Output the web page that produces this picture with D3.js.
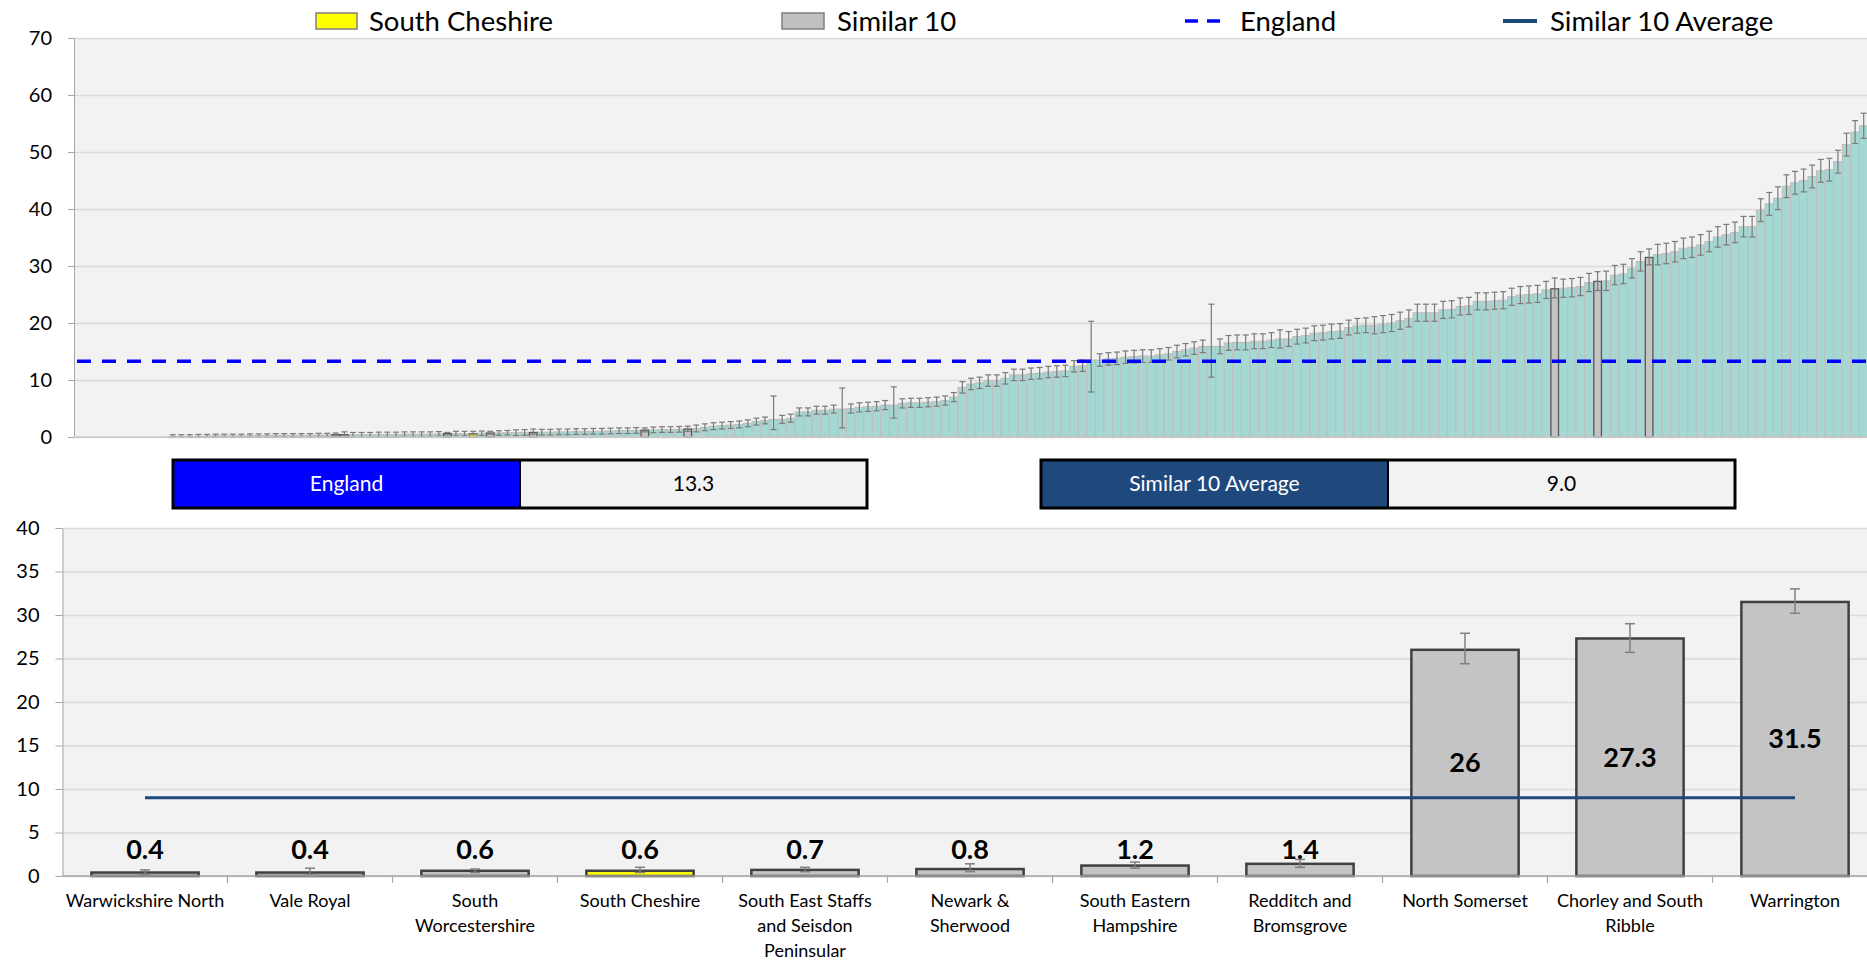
<!DOCTYPE html>
<html>
<head>
<meta charset="utf-8">
<script src="https://cdn.jsdelivr.net/npm/d3@7"></script>
<style>
  body { margin: 0; background: #fff; font-family: Lato, "Open Sans", sans-serif; }
  svg { display: block; }
</style>
</head>
<body>
<svg id="chart" width="1867" height="960"></svg>
<script>
// === DATA ===
const englandValue = 13.3;
const similarAverage = 9.0;
const highlightName = "South Cheshire";

// every area ranked low -> high (first 11 have no value shown)
const rankedValues = [
  null, null, null, null, null, null, null, null, null, null, null,
  0.1, 0.1, 0.1, 0.15, 0.15, 0.2, 0.2, 0.2, 0.2, 0.25,
  0.25, 0.25, 0.3, 0.3, 0.3, 0.3, 0.3, 0.35, 0.35, 0.4,
  0.4, 0.4, 0.4, 0.4, 0.45, 0.45, 0.45, 0.5, 0.5, 0.5,
  0.5, 0.55, 0.6, 0.6, 0.6, 0.6, 0.65, 0.7, 0.7, 0.75,
  0.75, 0.8, 0.8, 0.85, 0.85, 0.9, 0.9, 0.95, 0.95, 1.0,
  1.0, 1.05, 1.1, 1.1, 1.15, 1.2, 1.25, 1.3, 1.3, 1.35,
  1.4, 1.5, 1.7, 1.9, 2.0, 2.1, 2.2, 2.4, 2.7, 2.9,
  3.1, 3.1, 3.3, 4.4, 4.4, 4.7, 4.7, 4.9, 4.9, 5.0,
  5.2, 5.3, 5.4, 5.6, 5.6, 5.9, 6.0, 6.0, 6.1, 6.2,
  6.4, 7.0, 8.7, 9.3, 9.5, 9.9, 9.9, 10.3, 10.9, 10.9,
  11.1, 11.2, 11.4, 11.5, 11.6, 12.4, 12.5, 13.5, 13.5, 13.7,
  13.8, 14.0, 14.1, 14.2, 14.2, 14.4, 14.6, 15.0, 15.3, 15.6,
  15.9, 15.9, 15.9, 16.5, 16.6, 16.6, 16.8, 16.8, 17.0, 17.2,
  17.2, 17.6, 17.8, 18.2, 18.3, 18.5, 18.6, 19.2, 19.5, 19.6,
  19.6, 19.8, 20.0, 20.4, 20.8, 21.8, 21.8, 21.8, 22.3, 22.4,
  22.9, 23.0, 23.8, 23.8, 23.9, 24.0, 24.6, 24.9, 25.0, 25.1,
  25.8, 26.0, 26.1, 26.2, 26.4, 27.1, 27.3, 27.4, 28.4, 28.6,
  29.6, 30.8, 31.5, 32.0, 32.2, 32.5, 33.1, 33.3, 33.7, 34.3,
  35.1, 35.5, 35.9, 36.9, 36.9, 39.8, 40.9, 41.9, 44.0, 44.6,
  45.0, 45.7, 46.7, 46.9, 48.3, 51.3, 53.5, 54.6
];

// error half-width, or [lower, upper] where the interval is lopsided
const rankedErrors = [
  null, null, null, null, null, null, null, null, null, null, null,
  0.3, 0.3, 0.3, 0.3, 0.3, 0.3, 0.3, 0.3, 0.3, 0.3,
  0.3, 0.3, 0.3, 0.3, 0.3, 0.3, 0.3, 0.3, 0.3, 0.3,
  0.4, 0.4, 0.4, 0.4, 0.4, 0.4, 0.4, 0.4, 0.4, 0.4,
  0.4, 0.4, 0.4, 0.4, 0.4, 0.4, 0.4, 0.4, 0.4, 0.4,
  0.5, 0.5, 0.5, 0.5, 0.5, 0.5, 0.5, 0.5, 0.5, 0.5,
  0.5, 0.5, 0.5, 0.5, 0.5, 0.5, 0.5, 0.5, 0.5, 0.5,
  0.5, 0.6, 0.6, 0.6, 0.6, 0.6, 0.6, 0.6, 0.6, 0.6,
  [1.3, 7.2], 0.7, 0.7, 0.7, 0.7, 0.7, 0.7, 0.7, [1.6, 8.6], 0.8,
  0.8, 0.8, 0.8, 0.8, [3.3, 8.8], 0.8, 0.8, 0.8, 0.8, 0.8,
  0.8, 0.8, 1.0, 1.0, 1.0, 1.0, 1.0, 1.0, 1.0, 1.0,
  1.0, 1.0, 1.0, 1.0, 1.0, 1.0, 1.0, [7.9, 20.3], 1.1, 1.1,
  1.1, 1.1, 1.1, 1.1, 1.1, 1.1, 1.1, 1.1, 1.1, 1.1,
  1.1, [10.5, 23.3], 1.3, 1.3, 1.3, 1.3, 1.3, 1.3, 1.3, 1.6,
  1.3, 1.3, 1.3, 1.3, 1.3, 1.3, 1.3, 1.3, 1.3, 1.3,
  1.5, 1.5, 1.5, 1.5, 1.5, 1.5, 1.5, 1.5, 1.5, 1.5,
  1.5, 1.5, 1.5, 1.5, 1.5, 1.5, 1.5, 1.5, 1.5, 1.5,
  1.5, 1.7, 1.6, 1.6, 1.6, 1.6, 1.7, 1.7, 1.7, 1.7,
  1.7, 1.7, 1.4, 1.8, 1.8, 1.8, 1.8, 1.8, 1.8, 1.8,
  1.8, 1.8, 1.8, 1.8, 1.8, 2.0, 2.0, 2.0, 2.0, 2.0,
  2.0, 2.0, 2.0, 2.0, 2.0, 2.0, 2.0, 2.2
];

const similarNames = [
  "Warwickshire North", "Vale Royal", "South\nWorcestershire", "South Cheshire",
  "South East Staffs\nand Seisdon\nPeninsular", "Newark &\nSherwood", "South Eastern\nHampshire",
  "Redditch and\nBromsgrove", "North Somerset", "Chorley and South\nRibble", "Warrington"
];
const similarValues = [0.4, 0.4, 0.6, 0.6, 0.7, 0.8, 1.2, 1.4, 26, 27.3, 31.5];
const similarLower = [0.2, 0.1, 0.4, 0.4, 0.5, 0.5, 0.9, 1.0, 24.4, 25.7, 30.2];
const similarUpper = [0.7, 0.9, 0.8, 1.0, 1.0, 1.4, 1.6, 1.9, 27.9, 29.0, 33.0];
// where each similar area sits in the ranked list
const similarRank = [30, 31, 43, 46, 48, 53, 66, 71, 172, 177, 183];

const topTicks = [0, 10, 20, 30, 40, 50, 60, 70];
const bottomTicks = [0, 5, 10, 15, 20, 25, 30, 35, 40];

// === COLOURS ===
const TEAL = "#a6d8d3";
const GREY = "#c4c4c4";
const YELLOW = "#ffff00";
const BLUE = "#0000ff";
const NAVY = "#1f497d";
const PLOT_BG = "#f2f2f2";
const GRID = "#d9d9d9";

const svg = d3.select("#chart");

// === TOP CHART ===
const T = {left: 74, right: 1868, top: 38, bottom: 437};
const xTop = d3.scaleBand().domain(d3.range(rankedValues.length)).range([T.left, T.right]).padding(0);
const yTop = d3.scaleLinear().domain([0, 70]).range([T.bottom, T.top]);

svg.append("rect").attr("x", T.left).attr("y", T.top)
  .attr("width", T.right - T.left).attr("height", T.bottom - T.top).attr("fill", PLOT_BG);

svg.append("g").attr("transform", `translate(${T.left},0)`)
  .call(d3.axisLeft(yTop).tickValues(topTicks).tickSize(-(T.right - T.left)).tickFormat(""))
  .call(g => g.select(".domain").remove())
  .call(g => g.selectAll("line").attr("stroke", GRID).attr("stroke-width", 1.5));

const simByRank = new Map(similarRank.map((r, i) => [r, i]));
const topData = rankedValues.map((v, i) => ({i, v, e: rankedErrors[i], s: simByRank.get(i)}))
  .filter(d => d.v != null);

const barFill = d => d.s === undefined ? TEAL
  : (similarNames[d.s] === highlightName ? YELLOW : GREY);

// teal bars first, similar-10 bars drawn over them
svg.append("g").selectAll("rect")
  .data(topData.filter(d => d.s === undefined))
  .join("rect")
  .attr("x", d => xTop(d.i))
  .attr("y", d => yTop(d.v))
  .attr("width", xTop.bandwidth())
  .attr("height", d => yTop(0) - yTop(d.v))
  .attr("fill", TEAL)
  .attr("stroke", "#c2bcbc")
  .attr("stroke-width", 1);

svg.append("g").selectAll("rect")
  .data(topData.filter(d => d.s !== undefined))
  .join("rect")
  .attr("x", d => xTop(d.i) + 0.5)
  .attr("y", d => yTop(d.v))
  .attr("width", xTop.bandwidth() - 1)
  .attr("height", d => yTop(0) - yTop(d.v))
  .attr("fill", barFill)
  .attr("stroke", d => similarNames[d.s] === highlightName ? "#7f7f7f" : "#5a5a5a")
  .attr("stroke-width", 1.3);

// error bars
function topInterval(d) {
  if (d.s !== undefined) return [similarLower[d.s], similarUpper[d.s]];
  if (Array.isArray(d.e)) return d.e;
  return [Math.max(0, d.v - d.e), d.v + d.e];
}
const errTop = svg.append("g").attr("stroke", "#7a7a7a").attr("stroke-width", 1.2);
topData.forEach(d => {
  const [lo, hi] = topInterval(d);
  const cx = xTop(d.i) + xTop.bandwidth() / 2;
  errTop.append("line").attr("x1", cx).attr("x2", cx).attr("y1", yTop(lo)).attr("y2", yTop(hi));
  errTop.append("line").attr("x1", cx - 3).attr("x2", cx + 3).attr("y1", yTop(hi)).attr("y2", yTop(hi));
  errTop.append("line").attr("x1", cx - 3).attr("x2", cx + 3).attr("y1", yTop(lo)).attr("y2", yTop(lo));
});

// England line
svg.append("line")
  .attr("x1", 77).attr("x2", 1867)
  .attr("y1", yTop(englandValue)).attr("y2", yTop(englandValue))
  .attr("stroke", BLUE).attr("stroke-width", 3.5).attr("stroke-dasharray", "14 11");

// axes
svg.append("g").attr("transform", `translate(${T.left},0)`)
  .call(d3.axisLeft(yTop).tickValues(topTicks).tickSize(6).tickSizeOuter(0).tickPadding(16))
  .call(g => g.select(".domain").attr("stroke", "#a6a6a6"))
  .call(g => g.selectAll(".tick line").attr("stroke", "#a6a6a6"))
  .call(g => g.selectAll("text").attr("font-size", 20).attr("fill", "#000")
    .attr("font-family", "Lato, sans-serif"));

svg.append("line").attr("x1", T.left).attr("x2", 1867).attr("y1", T.bottom).attr("y2", T.bottom)
  .attr("stroke", "#c8c8c8").attr("stroke-width", 1.5);

// === LEGEND ===
const legend = svg.append("g").attr("font-size", 27.5).attr("fill", "#000");
legend.append("rect").attr("x", 316).attr("y", 13).attr("width", 41).attr("height", 16)
  .attr("fill", YELLOW).attr("stroke", "#808080").attr("stroke-width", 1.5);
legend.append("text").attr("x", 369).attr("y", 30.5).text("South Cheshire");
legend.append("rect").attr("x", 782).attr("y", 13).attr("width", 42).attr("height", 16)
  .attr("fill", "#c0c0c0").attr("stroke", "#808080").attr("stroke-width", 1.5);
legend.append("text").attr("x", 837).attr("y", 30.5).text("Similar 10");
legend.append("line").attr("x1", 1185).attr("x2", 1225).attr("y1", 21).attr("y2", 21)
  .attr("stroke", BLUE).attr("stroke-width", 3.5).attr("stroke-dasharray", "13 9");
legend.append("text").attr("x", 1240).attr("y", 30.5).text("England");
legend.append("line").attr("x1", 1503).attr("x2", 1537).attr("y1", 21).attr("y2", 21)
  .attr("stroke", NAVY).attr("stroke-width", 4);
legend.append("text").attr("x", 1550).attr("y", 30.5).text("Similar 10 Average");

// === SUMMARY BOXES ===
const boxes = [
  {label: "England", value: englandValue.toFixed(1), fill: BLUE, x: 173},
  {label: "Similar 10 Average", value: similarAverage.toFixed(1), fill: NAVY, x: 1041}
];
const boxW = 347, boxY = 460, boxH = 48;
boxes.forEach(b => {
  const g = svg.append("g");
  g.append("rect").attr("x", b.x).attr("y", boxY).attr("width", boxW).attr("height", boxH).attr("fill", b.fill);
  g.append("rect").attr("x", b.x + boxW).attr("y", boxY).attr("width", boxW).attr("height", boxH).attr("fill", PLOT_BG);
  g.append("rect").attr("x", b.x).attr("y", boxY).attr("width", boxW * 2).attr("height", boxH)
    .attr("fill", "none").attr("stroke", "#000").attr("stroke-width", 3);
  g.append("line").attr("x1", b.x + boxW).attr("x2", b.x + boxW).attr("y1", boxY).attr("y2", boxY + boxH)
    .attr("stroke", "#000").attr("stroke-width", 2);
  g.append("text").attr("x", b.x + boxW / 2).attr("y", boxY + boxH / 2).attr("dy", "0.35em")
    .attr("text-anchor", "middle").attr("font-size", 21).attr("fill", "#fff").text(b.label);
  g.append("text").attr("x", b.x + boxW * 1.5).attr("y", boxY + boxH / 2).attr("dy", "0.35em")
    .attr("text-anchor", "middle").attr("font-size", 21).attr("fill", "#000").text(b.value);
});

// === BOTTOM CHART ===
const B = {left: 62.5, right: 1877.5, top: 528, bottom: 876};
const xBot = d3.scaleBand().domain(similarNames).range([B.left, B.right])
  .paddingInner(0.35).paddingOuter(0.175);
const yBot = d3.scaleLinear().domain([0, 40]).range([B.bottom, B.top]);

svg.append("rect").attr("x", B.left).attr("y", B.top)
  .attr("width", B.right - B.left).attr("height", B.bottom - B.top).attr("fill", PLOT_BG);

svg.append("g").attr("transform", `translate(${B.left},0)`)
  .call(d3.axisLeft(yBot).tickValues(bottomTicks).tickSize(-(B.right - B.left)).tickFormat(""))
  .call(g => g.select(".domain").remove())
  .call(g => g.selectAll("line").attr("stroke", GRID).attr("stroke-width", 1.5));

const botData = similarNames.map((n, i) => ({
  name: n, v: similarValues[i], lo: similarLower[i], hi: similarUpper[i]
}));

svg.append("g").selectAll("rect")
  .data(botData)
  .join("rect")
  .attr("x", d => xBot(d.name))
  .attr("y", d => yBot(d.v))
  .attr("width", xBot.bandwidth())
  .attr("height", d => yBot(0) - yBot(d.v))
  .attr("fill", d => d.name === highlightName ? YELLOW : GREY)
  .attr("stroke", "#404040")
  .attr("stroke-width", 2.5);

const errBot = svg.append("g").attr("stroke", "#7f7f7f").attr("stroke-width", 1.5);
botData.forEach(d => {
  const cx = xBot(d.name) + xBot.bandwidth() / 2;
  errBot.append("line").attr("x1", cx).attr("x2", cx).attr("y1", yBot(d.lo)).attr("y2", yBot(d.hi));
  errBot.append("line").attr("x1", cx - 5).attr("x2", cx + 5).attr("y1", yBot(d.hi)).attr("y2", yBot(d.hi));
  errBot.append("line").attr("x1", cx - 5).attr("x2", cx + 5).attr("y1", yBot(d.lo)).attr("y2", yBot(d.lo));
});

// similar 10 average line
const firstC = xBot(similarNames[0]) + xBot.bandwidth() / 2;
const lastC = xBot(similarNames[similarNames.length - 1]) + xBot.bandwidth() / 2;
svg.append("line").attr("x1", firstC).attr("x2", lastC)
  .attr("y1", yBot(similarAverage)).attr("y2", yBot(similarAverage))
  .attr("stroke", NAVY).attr("stroke-width", 3);

// data labels
svg.append("g").selectAll("text")
  .data(botData)
  .join("text")
  .attr("x", d => xBot(d.name) + xBot.bandwidth() / 2)
  .attr("y", d => (yBot(0) - yBot(d.v)) > 60 ? (yBot(0) + yBot(d.v)) / 2 : yBot(0) - 26)
  .attr("dy", "0.35em")
  .attr("text-anchor", "middle")
  .attr("font-size", 27)
  .attr("font-weight", "bold")
  .attr("fill", "#000")
  .text(d => d.v);

// y axis
svg.append("g").attr("transform", `translate(${B.left},0)`)
  .call(d3.axisLeft(yBot).tickValues(bottomTicks).tickSize(7).tickSizeOuter(0).tickPadding(16))
  .call(g => g.select(".domain").attr("stroke", "#a6a6a6"))
  .call(g => g.selectAll(".tick line").attr("stroke", "#a6a6a6"))
  .call(g => g.selectAll("text").attr("font-size", 20).attr("fill", "#000")
    .attr("font-family", "Lato, sans-serif"));

// x axis line and boundary ticks
svg.append("line").attr("x1", B.left).attr("x2", 1867).attr("y1", B.bottom).attr("y2", B.bottom)
  .attr("stroke", "#a6a6a6").attr("stroke-width", 1.5);
const gap = xBot.step() * xBot.paddingInner() / 2;
svg.append("g").selectAll("line")
  .data(similarNames.slice(1))
  .join("line")
  .attr("x1", d => xBot(d) - gap).attr("x2", d => xBot(d) - gap)
  .attr("y1", B.bottom).attr("y2", B.bottom + 7)
  .attr("stroke", "#a6a6a6").attr("stroke-width", 1.2);

// category labels
svg.append("g").selectAll("text")
  .data(similarNames)
  .join("text")
  .attr("x", d => xBot(d) + xBot.bandwidth() / 2)
  .attr("y", 907)
  .attr("text-anchor", "middle")
  .attr("font-size", 18)
  .attr("fill", "#000")
  .each(function(d) {
    const t = d3.select(this);
    d.split("\n").forEach((line, k) => {
      t.append("tspan").attr("x", t.attr("x")).attr("dy", k === 0 ? 0 : 25).text(line);
    });
  });
</script>
</body>
</html>
